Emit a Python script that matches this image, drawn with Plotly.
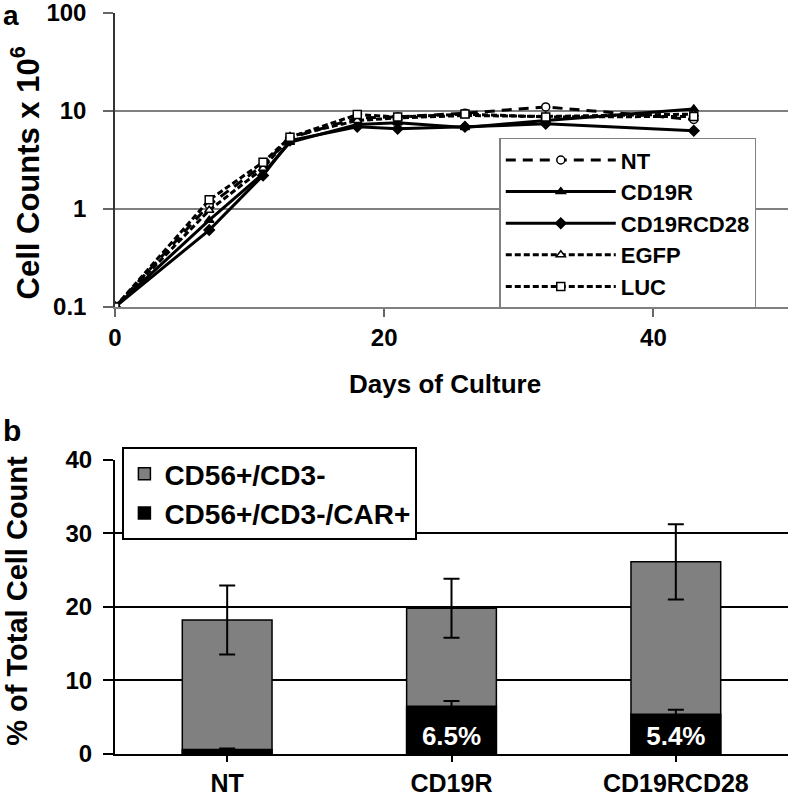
import plotly.graph_objects as go

# panel a: expansion of cells over time (cells x 10^6)
days = [0, 7, 11, 13, 18, 21, 26, 32, 43]
nt = [0.1, 1.1, 2.8, 5.3, 8.5, 8.7, 9.5, 11.0, 8.2]
cd19r = [0.1, 0.77, 2.3, 4.8, 7.3, 7.6, 6.8, 8.0, 10.5]
cd19rcd28 = [0.1, 0.61, 2.2, 5.0, 6.9, 6.6, 6.9, 7.4, 6.3]
egfp = [0.1, 0.97, 2.6, 5.5, 8.0, 8.5, 9.0, 8.8, 9.3]
luc = [0.1, 1.24, 3.0, 5.4, 9.2, 8.7, 9.3, 8.7, 8.8]

# panel b: % of total cell count
groups = ['NT', 'CD19R', 'CD19RCD28']
nk_total = [18.2, 19.8, 26.1]
nk_total_err = [4.7, 4.0, 5.1]
nk_car = [0.6, 6.5, 5.4]
nk_car_err = [0.15, 0.7, 0.6]
car_labels = ['', '6.5%', '5.4%']

FONT = 'Liberation Sans, Arial, sans-serif'

fig = go.Figure()

# name, values, dash, marker symbol, marker fill
styles = [
    ('NT', nt, '10px,7px', 'circle', 'white'),
    ('CD19R', cd19r, 'solid', 'triangle-up', 'black'),
    ('CD19RCD28', cd19rcd28, 'solid', 'diamond', 'black'),
    ('EGFP', egfp, '6px,3px', 'triangle-up', 'white'),
    ('LUC', luc, '6px,3px', 'square', 'white'),
]
for name, vals, dash, sym, fill in styles:
    fig.add_trace(go.Scatter(
        x=days, y=vals, name=name, mode='lines+markers',
        line=dict(color='black', width=3, dash=dash),
        marker=dict(symbol=sym, size=8, color=fill,
                    line=dict(color='black', width=1.5)),
        xaxis='x', yaxis='y', legend='legend'))

# bars
fig.add_trace(go.Bar(
    x=groups, y=nk_total, name='CD56+/CD3-',
    marker=dict(color='#808080', line=dict(color='black', width=1.5)),
    error_y=dict(type='data', array=nk_total_err, color='black',
                 thickness=2, width=8),
    xaxis='x2', yaxis='y2', legend='legend2', legendgroup='g1'))
fig.add_trace(go.Bar(
    x=groups, y=nk_car, name='CD56+/CD3-/CAR+',
    marker=dict(color='black', line=dict(color='black', width=1.5)),
    error_y=dict(type='data', array=nk_car_err, color='black',
                 thickness=2, width=8),
    text=car_labels, textposition='inside', insidetextanchor='start',
    textfont=dict(color='white', size=26, family=FONT, weight='bold'),
    xaxis='x2', yaxis='y2', legend='legend2', legendgroup='g2'))

tickfont = dict(family=FONT, size=24, color='black', weight='bold')
catfont = dict(family=FONT, size=25, color='black', weight='bold')


def note(text, x, y, size, angle=0):
    return dict(text=text, x=x, y=y, xref='paper', yref='paper',
                xanchor='center', yanchor='middle', textangle=angle,
                showarrow=False, font=dict(size=size, weight='bold'))


fig.update_layout(
    width=792, height=800,
    margin=dict(l=115, r=4, t=13, b=46, autoexpand=False),
    paper_bgcolor='white', plot_bgcolor='white',
    font=dict(family=FONT, color='black', weight='bold'),
    barmode='overlay', bargap=0.6,
    xaxis=dict(domain=[0, 1], anchor='y', range=[0, 50], automargin=False,
               tickvals=[0, 20, 40], ticks='outside', ticklen=8,
               tickcolor='#666', tickwidth=1.5, showgrid=False,
               ticklabeloverflow='allow',
               showline=True, linecolor='#808080', linewidth=1.5,
               zeroline=False, tickfont=tickfont),
    yaxis=dict(domain=[0.6032, 1], anchor='x', type='log', range=[-1, 2],
               automargin=False, ticklabeloverflow='allow',
               tickvals=[0.1, 1, 10, 100], ticktext=['0.1', '1', '10', '100'],
               ticks='outside', ticklen=10, tickcolor='#666', tickwidth=1.5,
               ticklabelstandoff=12,
               showgrid=True, gridcolor='#808080', gridwidth=1.5,
               showline=True, linecolor='#333', linewidth=1.5,
               zeroline=False, tickfont=tickfont),
    xaxis2=dict(domain=[0, 1], anchor='y2', ticks='outside', ticklen=6,
                automargin=False, ticklabeloverflow='allow',
                tickcolor='black', tickwidth=2, ticklabelstandoff=0,
                showline=True, linecolor='black', linewidth=2,
                tickfont=catfont),
    yaxis2=dict(domain=[0, 0.3974], anchor='x2', range=[0, 40],
                automargin=False, ticklabeloverflow='allow',
                tickvals=[0, 10, 20, 30, 40], ticks='outside', ticklen=10,
                tickcolor='black', tickwidth=2, ticklabelstandoff=6,
                showgrid=True, gridcolor='black', gridwidth=2,
                showline=True, linecolor='black', linewidth=2,
                zeroline=False, tickfont=tickfont),
    legend=dict(x=0.571, y=0.8317, xanchor='left', yanchor='top',
                bgcolor='white', bordercolor='#808080', borderwidth=1.5,
                font=dict(family=FONT, size=22, color='black', weight='bold'),
                itemwidth=110, tracegroupgap=0),
    legend2=dict(x=0.011, y=0.4143, xanchor='left', yanchor='top',
                 bgcolor='white', bordercolor='black', borderwidth=2,
                 font=dict(family=FONT, size=28, color='black', weight='bold'),
                 tracegroupgap=26, traceorder='normal'),
    annotations=[
        note('a', -0.155, 0.996, 28),
        note('b', -0.153, 0.4359, 30),
        note('Cell Counts x 10<sup>6</sup>', -0.133, 0.7841, 31, -90),
        note('% of Total Cell Count', -0.146, 0.2065, 29, -90),
        note('Days of Culture', 0.49, 0.4993, 26),
    ],
)

fig.write_html('out.html', config={'displayModeBar': False},
               post_script="document.body.style.margin='0';")
